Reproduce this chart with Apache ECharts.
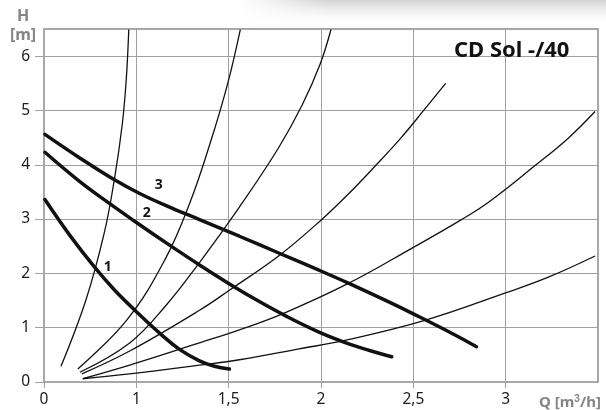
<!DOCTYPE html>
<html>
<head>
<meta charset="utf-8">
<script src="https://cdn.jsdelivr.net/npm/echarts@6/dist/echarts.min.js"></script>
<style>
html,body{margin:0;padding:0;background:#fff;}
#c{width:606px;height:410px;}
</style>
</head>
<body>
<div id="c"></div>
<script>
// Tick values and labels
const xTickValues = [0.5, 1, 1.5, 2, 2.5, 3];
const xTickLabels = ['0', '1', '1,5', '2', '2,5', '3'];
const yTickValues = [0, 1, 2, 3, 4, 5, 6];
const yTickLabels = ['0', '1', '2', '3', '4', '5', '6'];

const titleText = 'CD Sol -/40';
const yName = ['H', '[m]'];
const xName = 'Q [m{sup|3}/h]';

// Pump curves (Q, H)
const pump1 = [[0.505,3.36],[0.640,2.70],[0.775,2.11],[0.883,1.69],[1.002,1.29],[1.126,0.90],[1.234,0.60],[1.342,0.39],[1.423,0.29],[1.504,0.24]];
const pump2 = [[0.505,4.23],[0.694,3.69],[0.856,3.285],[1.018,2.896],[1.180,2.52],[1.342,2.156],[1.520,1.773],[1.666,1.481],[1.811,1.213],[1.989,0.919],[2.135,0.722],[2.259,0.585],[2.383,0.465]];
const pump3 = [[0.505,4.56],[0.694,4.125],[0.872,3.742],[1.018,3.472],[1.180,3.221],[1.342,2.991],[1.558,2.684],[1.774,2.371],[1.989,2.059],[2.151,1.816],[2.367,1.475],[2.497,1.26],[2.718,0.88],[2.842,0.65]];
const pumpNames = ['1', '2', '3'];
const pumpLabelPos = [[0.845,2.11],[1.056,3.11],[1.121,3.62]];

// System curves (Q, H)
const sysA = [[0.592,0.29],[0.727,1.51],[0.826,2.74],[0.882,3.75],[0.924,4.75],[0.946,5.60],[0.959,6.49]];
const sysB = [[0.683,0.24],[0.948,1.14],[1.153,2.24],[1.290,3.30],[1.400,4.40],[1.495,5.50],[1.563,6.49]];
const sysC = [[0.694,0.18],[0.964,0.72],[1.158,1.40],[1.342,2.20],[1.558,3.22],[1.768,4.30],[1.898,5.10],[1.995,5.85],[2.054,6.49]];
const sysD = [[0.705,0.15],[0.964,0.57],[1.342,1.32],[1.504,1.69],[1.774,2.33],[2.000,2.98],[2.151,3.47],[2.297,3.99],[2.432,4.49],[2.556,5.00],[2.675,5.50]];
const sysE = [[0.710,0.06],[0.964,0.31],[1.342,0.72],[1.558,0.96],[1.801,1.27],[2.151,1.82],[2.491,2.46],[2.756,2.98],[2.907,3.31],[3.161,3.99],[3.339,4.49],[3.484,4.98]];
const sysF = [[0.710,0.06],[0.964,0.15],[1.342,0.31],[1.558,0.41],[1.882,0.61],[2.135,0.77],[2.567,1.14],[2.999,1.64],[3.231,1.93],[3.484,2.32]];

const gridColor = '#9f9f9f';
const fontFam = '"Noto Sans", "Open Sans", sans-serif';

const chart = echarts.init(document.getElementById('c'), null, {renderer: 'canvas'});

const series = [];
[sysA, sysB, sysC, sysD, sysE, sysF].forEach(d => {
  series.push({
    type: 'line', data: d, smooth: 0.4, symbol: 'none',
    lineStyle: {color: '#111', width: 1.3}, z: 3, silent: true
  });
});
[pump1, pump2, pump3].forEach((d, i) => {
  series.push({
    type: 'line', data: d, smooth: 0.4, symbol: 'none',
    lineStyle: {color: '#111', width: 3.5, cap: 'round'}, z: 4, silent: true,
    markPoint: {
      symbol: 'circle', symbolSize: 0,
      label: {show: true, formatter: pumpNames[i], color: '#111', fontWeight: 'bold',
              fontSize: 14, fontFamily: fontFam, position: 'inside'},
      data: [{coord: pumpLabelPos[i]}]
    }
  });
});

chart.setOption({
  animation: false,
  backgroundColor: '#fff',
  grid: {left: 44, right: 8, top: 29, bottom: 28, show: true,
         borderColor: '#a8a8a8', borderWidth: 2, backgroundColor: 'transparent'},
  xAxis: {
    type: 'value', min: 0.5, max: 3.5, interval: 0.5,
    axisLine: {show: true, lineStyle: {color: '#a8a8a8', width: 2}},
    axisTick: {show: true, length: 6, customValues: xTickValues, lineStyle: {color: gridColor}},
    axisLabel: {customValues: xTickValues, margin: 10, color: '#1a1a1a', fontSize: 15.5,
                fontFamily: fontFam,
                formatter: v => { const i = xTickValues.indexOf(v); return i >= 0 ? xTickLabels[i] : ''; }},
    splitLine: {show: true, lineStyle: {color: gridColor, width: 1}}
  },
  yAxis: {
    type: 'value', min: 0, max: 6.5, interval: 0.5,
    axisLine: {show: true, lineStyle: {color: '#a8a8a8', width: 2}},
    axisTick: {show: true, length: 9, customValues: yTickValues, lineStyle: {color: gridColor}},
    axisLabel: {customValues: yTickValues, margin: 14, color: '#1a1a1a', fontSize: 15.5,
                fontFamily: fontFam,
                formatter: v => { const i = yTickValues.indexOf(v); return i >= 0 ? yTickLabels[i] : ''; }},
    splitLine: {show: true, lineStyle: {color: gridColor, width: 1}}
  },
  graphic: [
    {type: 'rect', shape: {x: 240, y: 0, width: 366, height: 27}, z: -10, silent: true,
     style: {fill: new echarts.graphic.LinearGradient(0, 0, 0, 1, [
       {offset: 0, color: 'rgba(205,205,205,0.9)'}, {offset: 1, color: 'rgba(255,255,255,0)'}])}},
    {type: 'rect', shape: {x: 240, y: 0, width: 90, height: 27}, z: -9, silent: true,
     style: {fill: new echarts.graphic.LinearGradient(0, 0, 1, 0, [
       {offset: 0, color: 'rgba(255,255,255,1)'}, {offset: 1, color: 'rgba(255,255,255,0)'}])}},
    {type: 'text', left: 454, top: 40, z: 10,
     style: {text: titleText, fontSize: 22, fontWeight: 'bold', fontFamily: fontFam, fill: '#111'}},
    {type: 'text', x: 23, y: 16, z: 10,
     style: {text: yName[0], fontSize: 16, fontWeight: 'bold', fontFamily: fontFam, fill: '#858585',
             align: 'center', verticalAlign: 'middle'}},
    {type: 'text', x: 23, y: 35, z: 10,
     style: {text: yName[1], fontSize: 16, fontWeight: 'bold', fontFamily: fontFam, fill: '#858585',
             align: 'center', verticalAlign: 'middle'}},
    {type: 'text', x: 539, y: 403, z: 10,
     style: {text: xName, fontSize: 15, fontWeight: 'bold', fontFamily: fontFam, fill: '#858585',
             verticalAlign: 'middle',
             rich: {sup: {fontSize: 10, fontWeight: 'bold', fill: '#858585', verticalAlign: 'top', padding: [0,0,8,0]}}}}
  ],
  series: series
});
</script>
</body>
</html>
